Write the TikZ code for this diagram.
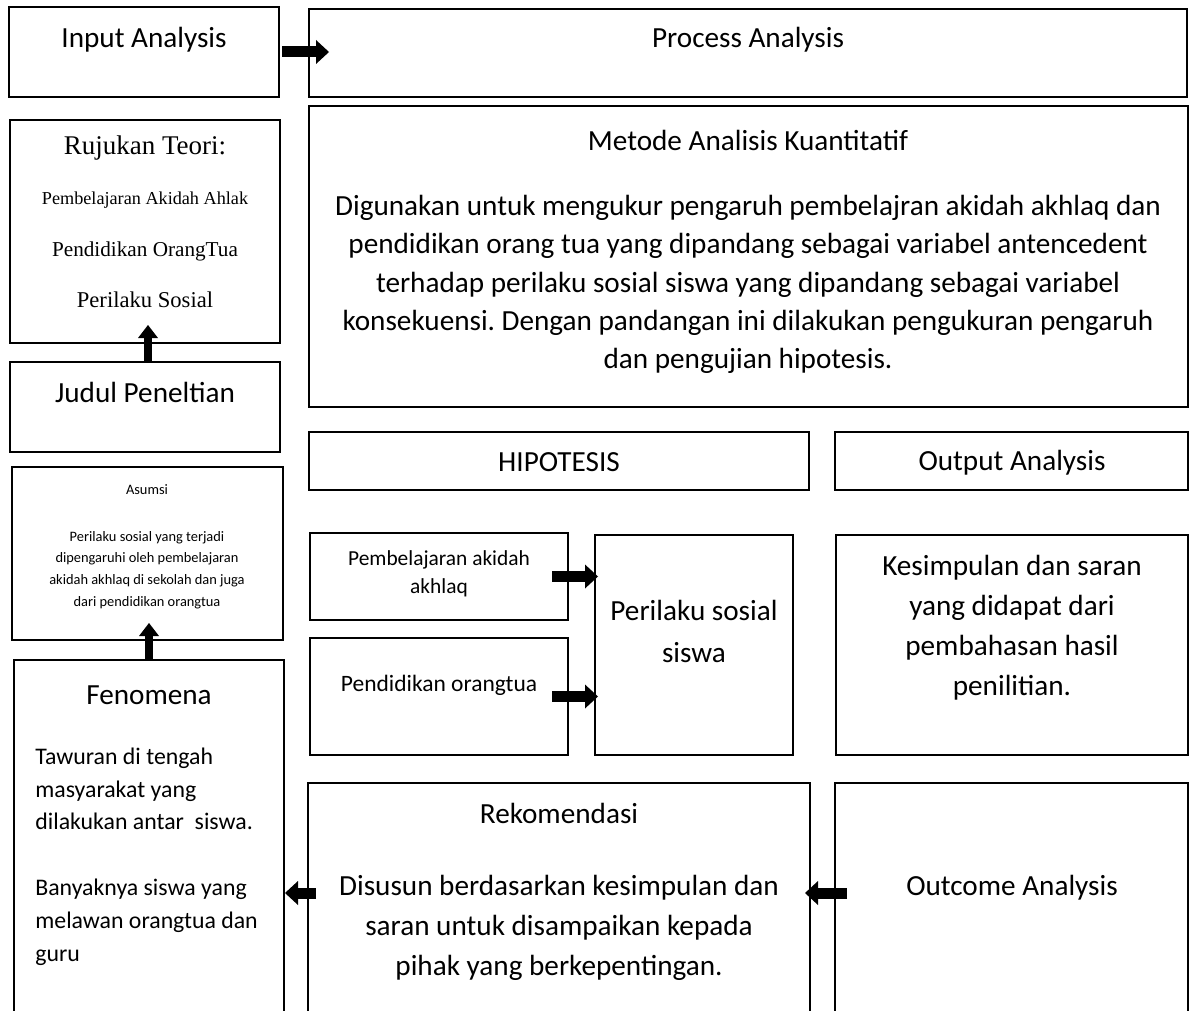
\documentclass[tikz,border=0pt]{standalone}
\usepackage{fontspec}
\setmainfont{Carlito}
\newfontfamily\tnr{Liberation Serif}
\usetikzlibrary{arrows.meta,fit}
\frenchspacing
\begin{document}
\begin{tikzpicture}[x=0.5pt,y=-0.5pt,
  box/.style={draw, line width=1pt, inner sep=0pt, outer sep=0pt},
  lbl/.style={inner sep=0pt, align=center, font=\fontsize{14.6}{19}\selectfont},
  barrow/.style={line width=5.5pt, -{Triangle[length=6.5pt,width=12pt,line width=0pt]}},
  varrow/.style={line width=3.8pt, -{Triangle[length=6.5pt,width=10pt,line width=0pt]}}]
\useasboundingbox (0,0) rectangle (1193,1011);
\clip (0,0) rectangle (1193,1011);
% boxes
\node[box, fit={(9,7) (279,97)}] (in) {};
\node[box, fit={(309,9) (1187,97)}] (proc) {};
\node[box, fit={(309,106) (1188,407)}] (met) {};
\node[box, fit={(10,120) (280,343)}] (ruj) {};
\node[box, fit={(10,362) (280,452)}] (jud) {};
\node[box, fit={(12,467) (283,640)}] (asu) {};
\node[box, fit={(14,660) (284,1030)}] (fen) {};
\node[box, fit={(309,432) (809,490)}] (hip) {};
\node[box, fit={(835,432) (1188,490)}] (outp) {};
\node[box, fit={(310,533) (568,620)}] (pemb) {};
\node[box, fit={(310,638) (568,755)}] (pend) {};
\node[box, fit={(595,535) (793,755)}] (peril) {};
\node[box, fit={(836,535) (1188,755)}] (kes) {};
\node[box, fit={(308,783) (810,1030)}] (rek) {};
\node[box, fit={(835,783) (1188,1030)}] (outc) {};
% texts
\node[lbl] (tin) at (144,40) {Input Analysis};
\node[lbl] (tproc) at (748,40) {Process Analysis};
\node[lbl] (tmet) at (748,140) {Metode Analisis Kuantitatif};
\node[lbl, font=\fontsize{14.6}{19.15}\selectfont] (tmetb) at (748,284.5) {Digunakan untuk mengukur pengaruh pembelajran akidah akhlaq dan\\pendidikan orang tua yang dipandang sebagai variabel antencedent\\terhadap perilaku sosial siswa yang dipandang sebagai variabel\\konsekuensi. Dengan pandangan ini dilakukan pengukuran pengaruh\\dan pengujian hipotesis.};
\node[lbl, font=\tnr\fontsize{13.5}{16}\selectfont] (truj) at (145,148) {Rujukan Teori:};
\node[lbl, font=\tnr\fontsize{9.1}{11}\selectfont] (truj1) at (145,200) {Pembelajaran Akidah Ahlak};
\node[lbl, font=\tnr\fontsize{10.6}{12}\selectfont] (truj2) at (145,251) {Pendidikan OrangTua};
\node[lbl, font=\tnr\fontsize{11.3}{13}\selectfont] (truj3) at (145,300) {Perilaku Sosial};
\node[lbl] (tjud) at (145,392) {Judul Peneltian};
\node[lbl, font=\fontsize{7.2}{10.85}\selectfont] (tasu) at (147,490) {Asumsi};
\node[lbl, font=\fontsize{7.2}{10.85}\selectfont] (tasub) at (147,570) {Perilaku sosial yang terjadi\\dipengaruhi oleh pembelajaran\\akidah akhlaq di sekolah dan juga\\dari pendidikan orangtua};
\node[lbl] (tfen) at (149,695) {Fenomena};
\node[inner sep=0pt, anchor=west, align=left, font=\fontsize{11.9}{16.4}\selectfont] (tfenb) at (35,856.5) {Tawuran di tengah\\masyarakat yang\\dilakukan antar\ \ siswa.\\[16.4pt]Banyaknya siswa yang\\melawan orangtua dan\\guru};
\node[lbl] (thip) at (559,462) {HIPOTESIS};
\node[lbl] (toutp) at (1012,463) {Output Analysis};
\node[lbl, font=\fontsize{10.7}{14}\selectfont] (tpemb) at (439,574) {Pembelajaran akidah\\akhlaq};
\node[lbl, font=\fontsize{11.75}{14}\selectfont] (tpend) at (439,685) {Pendidikan orangtua};
\node[lbl, font=\fontsize{14.6}{21}\selectfont] (tperil) at (694,631) {Perilaku sosial\\siswa};
\node[lbl, font=\fontsize{14.6}{20}\selectfont] (tkes) at (1012,628) {Kesimpulan dan saran\\yang didapat dari\\pembahasan hasil\\penilitian.};
\node[lbl] (trek) at (559,813) {Rekomendasi};
\node[lbl, font=\fontsize{14.6}{20}\selectfont] (trekb) at (559,928) {Disusun berdasarkan kesimpulan dan\\saran untuk disampaikan kepada\\pihak yang berkepentingan.};
\node[lbl] (toutc) at (1012,888) {Outcome Analysis};
% arrows
\coordinate (ry) at (0,893);
\draw[barrow] ([xshift=1.5pt]in.east) -- ([xshift=10pt]in.east -| proc.west);
\draw[varrow] ([xshift=1.5pt]jud.north) -- ([xshift=1.5pt,yshift=9pt]ruj.south);
\draw[varrow] (fen.north) -- ([yshift=8.5pt]fen.north |- asu.south);
\draw[barrow] ([xshift=-8pt]pemb.east) -- ([xshift=1.5pt]pemb.east -| peril.west);
\draw[barrow] ([xshift=-8pt]pend.east) -- ([xshift=1.5pt]pend.east -| peril.west);
\draw[barrow] ([xshift=4pt]rek.west |- ry) -- ([xshift=0.5pt]fen.east |- ry);
\draw[barrow] ([xshift=6pt]outc.west |- ry) -- ([xshift=-2.5pt]rek.east |- ry);
\end{tikzpicture}
\end{document}
